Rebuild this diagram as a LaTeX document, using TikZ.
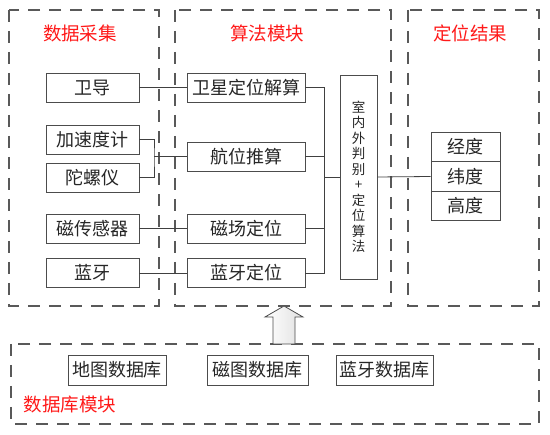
\documentclass[tikz,border=0pt]{standalone}
\usepackage{fontspec}
\setmainfont{Noto Sans CJK SC}
\begin{document}
\begin{tikzpicture}[x=1pt,y=-1pt,
  box/.style={draw=black!70, line width=0.8pt, inner sep=0pt, minimum height=29pt,
    text=black!85, font=\fontsize{18}{20}\selectfont},
  grp/.style={draw=black!65, line width=1.1pt, dash pattern=on 12pt off 9pt},
  ttl/.style={text=red!90, font=\fontsize{18.5}{20}\selectfont},
  wire/.style={draw=black!75, line width=0.8pt}]
\useasboundingbox (0,0) rectangle (550,435);
% group frames
\draw[grp] (9,10) rectangle (159,306);
\draw[grp] (175,10) rectangle (391,306);
\draw[grp] (408,10) rectangle (539,306);
\draw[grp] (11,344) rectangle (539,424);
\node[ttl] (t1) at (80,33) {数据采集};
\node[ttl] (t2) at (267,33) {算法模块};
\node[ttl] (t3) at (470,33) {定位结果};
\node[ttl] (t4) at (70,405) {数据库模块};
% data sources
\node[box, minimum width=93pt] (wd) at (92.5,87.5) {卫导};
\node[box, minimum width=93pt] (jsd) at (92.5,139.5) {加速度计};
\node[box, minimum width=93pt] (tly) at (92.5,177.5) {陀螺仪};
\node[box, minimum width=93pt] (cg) at (92.5,228.5) {磁传感器};
\node[box, minimum width=93pt] (ly) at (92.5,273) {蓝牙};
% algorithms
\node[box, minimum width=118pt] (wx) at (246,87.5) {卫星定位解算};
\node[box, minimum width=118pt] (hw) at (246,156.5) {航位推算};
\node[box, minimum width=118pt] (cc) at (246,228.5) {磁场定位};
\node[box, minimum width=118pt] (lyd) at (246,273) {蓝牙定位};
\node[box, minimum width=37pt, minimum height=204pt, align=center,
  font=\fontsize{13.5}{15.5}\selectfont] (tall) at (358.5,177)
  {室\\内\\外\\判\\别\\+\\定\\位\\算\\法};
% results
\node[box, minimum width=69pt, minimum height=29.5pt] (jd) at (465.5,147) {经度};
\node[box, minimum width=69pt, minimum height=29.5pt] (wdu) at (465.5,176.5) {纬度};
\node[box, minimum width=69pt, minimum height=29.5pt] (gd) at (465.5,206) {高度};
% databases
\node[box, minimum width=98pt, minimum height=30pt] (db1) at (117,370) {地图数据库};
\node[box, minimum width=101pt, minimum height=30pt] (db2) at (257.5,370) {磁图数据库};
\node[box, minimum width=97pt, minimum height=30pt] (db3) at (384.5,370) {蓝牙数据库};
% connectors
\coordinate (j) at (154,156.5);
\coordinate (bt) at (324,87.5);
\coordinate (bb) at (324,273);
\draw[wire] (wd.east) -- (wx.west);
\draw[wire] (jsd.east) -| (j) |- (tly.east);
\draw[wire] (j) -- (hw.west);
\draw[wire] (cg.east) -- (cc.west);
\draw[wire] (ly.east) -- (lyd.west);
\draw[wire] (wx.east) -- (bt) -- (bb) -- (lyd.east);
\draw[wire] (hw.east) -- (hw.east -| bt);
\draw[wire] (cc.east) -- (cc.east -| bt);
\draw[wire] (tall.west -| bt) -- (tall.west);
\draw[wire] (tall.east) -- (wdu.west);
% block arrow
\draw[draw=black!70, line width=0.8pt, left color=white, right color=black!12]
  (273,344) -- (273,317) -- (265,317) -- (284,306) -- (303,317) -- (295,317) -- (295,344) -- cycle;
\end{tikzpicture}
\end{document}
